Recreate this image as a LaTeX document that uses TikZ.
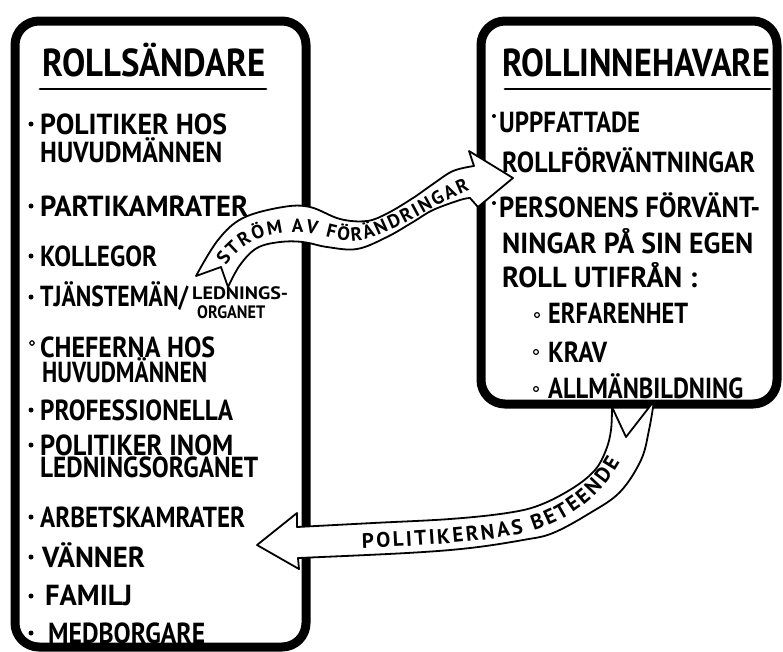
\documentclass[tikz,border=0pt]{standalone}
\usepackage{fontspec}
\usepackage{graphicx}
\usetikzlibrary{decorations.text}
\newfontfamily\hand{PT Sans}
\newcommand\fitw[2]{\resizebox{#1pt}{\height}{#2}}
\tikzset{
  rolebox/.style={draw, line width=9pt, rounded corners=24pt, inner sep=0pt},
  txt/.style={anchor=base west, inner sep=0pt, font=\hand\bfseries\fontsize{29}{30}\selectfont},
  ttl/.style={txt, font=\hand\bfseries\fontsize{39}{40}\selectfont},
  sm/.style={txt, font=\hand\bfseries\fontsize{18}{20}\selectfont},
  flow/.style={draw, fill=white, line width=1.8pt, line join=round},
  uline/.style={line width=2.8pt, line cap=round},
  blt/.style={fill=black},
  ring/.style={draw, line width=1.2pt},
}
\begin{document}
\begin{tikzpicture}[x=1pt,y=-1pt]
\useasboundingbox (0,0) rectangle (783,651);
\fill[white] (0,0) rectangle (783,651);

% boxes
\node[rolebox, minimum width=291pt, minimum height=626pt] (lbox) at (160.5,334) {};
\node[rolebox, minimum width=296pt, minimum height=383pt] (rbox) at (629,212.5) {};

% left box texts
\node[ttl] (lt) at (42,76) {\fitw{223}{ROLLSÄNDARE}};
\draw[uline] (40,89) -- (266,89);
\node[txt] (l1) at (40,134) {\fitw{187}{POLITIKER HOS}};
\node[txt] (l2) at (40,162) {\fitw{182}{HUVUDMÄNNEN}};
\node[txt] (l3) at (40,216) {\fitw{208}{PARTIKAMRATER}};
\node[txt] (l4) at (40,266) {\fitw{117}{KOLLEGOR}};
\node[txt] (l5) at (40,306) {\fitw{148}{TJÄNSTEMÄN/}};
\node[sm] (l5a) at (192,299) {\fitw{96}{LEDNINGS-}};
\node[sm] (l5b) at (197,318) {\fitw{68}{ORGANET}};
\node[txt] (l6) at (40,357) {\fitw{175}{CHEFERNA HOS}};
\node[txt] (l7) at (42,382) {\fitw{165}{HUVUDMÄNNEN}};
\node[txt] (l8) at (40,420) {\fitw{193}{PROFESSIONELLA}};
\node[txt] (l9) at (40,455) {\fitw{193}{POLITIKER INOM}};
\node[txt] (l10) at (40,477) {\fitw{218}{LEDNINGSORGANET}};
\node[txt] (l11) at (40,527) {\fitw{205}{ARBETSKAMRATER}};
\node[txt] (l12) at (42,567) {\fitw{103}{VÄNNER}};
\node[txt] (l13) at (45,605) {\fitw{87}{FAMILJ}};
\node[txt] (l14) at (48,643) {\fitw{157}{MEDBORGARE}};

\foreach \yy in {124,206,256,297,410,445,517,557,596,633}
  \fill[blt] (31,\yy) circle (2.5pt);
\draw[ring] (32,343) circle (2.2pt);

% right box texts
\node[ttl] (rt) at (502,76) {\fitw{268}{ROLLINNEHAVARE}};
\draw[uline] (505,89) -- (770,89);
\node[txt] (r1) at (499,132) {\fitw{141}{UPPFATTADE}};
\node[txt] (r2) at (502,172) {\fitw{253}{ROLLFÖRVÄNTNINGAR}};
\node[txt] (r3) at (499,217) {\fitw{261}{PERSONENS FÖRVÄNT-}};
\node[txt] (r4) at (502,253) {\fitw{251}{NINGAR PÅ SIN EGEN}};
\node[txt] (r5) at (502,287) {\fitw{195}{ROLL UTIFRÅN :}};
\node[txt] (r6) at (548,323) {\fitw{140}{ERFARENHET}};
\node[txt] (r7) at (548,362) {\fitw{59}{KRAV}};
\node[txt] (r8) at (548,398) {\fitw{195}{ALLMÄNBILDNING}};
\fill[blt] (494,116) circle (2pt);
\fill[blt] (494,203) circle (2pt);
\draw[ring] (537,315) circle (2.4pt);
\draw[ring] (536,352) circle (2.4pt);
\draw[ring] (536,389) circle (2.4pt);

% flow arrow: ström av förändringar
\draw[flow] (196,276)
  -- plot[smooth, tension=0.6] coordinates {(196,276) (218,240) (243,218) (283,207) (310,207) (340,219) (367,221) (388,213) (413,198) (433,184) (453,171) (474,166)}
  -- (469,151) -- (513,178) -- (478,207)
  -- plot[smooth, tension=0.6] coordinates {(470,198) (460,200) (433,210) (413,222) (387,237) (357,249) (327,247) (303,242) (280,242) (257,248) (240,265) (228,287)}
  -- (221,267) -- cycle;
\path[decorate, decoration={text along path, text align={fit to path},
   text={|\hand\bfseries\fontsize{19}{20}\selectfont|STRÖM AV FÖRÄNDRINGAR}}]
  (226,266) .. controls (243,240) and (268,232) .. (300,232)
  .. controls (322,234) and (335,242) .. (355,241)
  .. controls (370,240) and (380,234) .. (390,230)
  .. controls (415,220) and (440,202) .. (470,190);

% flow arrow: politikernas beteende
\draw[flow] (612,407) -- (626,437) -- (654,401)
  -- plot[smooth, tension=0.6] coordinates {(654,401) (649,430) (641,460) (620,492) (590,513) (553,533) (523,540) (470,548) (407,553) (298,558)}
  -- (299,569) -- (257,545) -- (297,513)
  -- plot[smooth, tension=0.6] coordinates {(297,527) (373,523) (450,519) (507,513) (540,505) (573,488) (595,470) (606,450) (611,430) (612,407)}
  -- cycle;
\path[decorate, decoration={text along path, text align={fit to path},
   text={|\hand\bfseries\fontsize{21}{22}\selectfont|POLITIKERNAS BETEENDE}}]
  (362,548) .. controls (430,546) and (490,541) .. (530,532)
  .. controls (570,520) and (600,497) .. (620,462);
\end{tikzpicture}
\end{document}
